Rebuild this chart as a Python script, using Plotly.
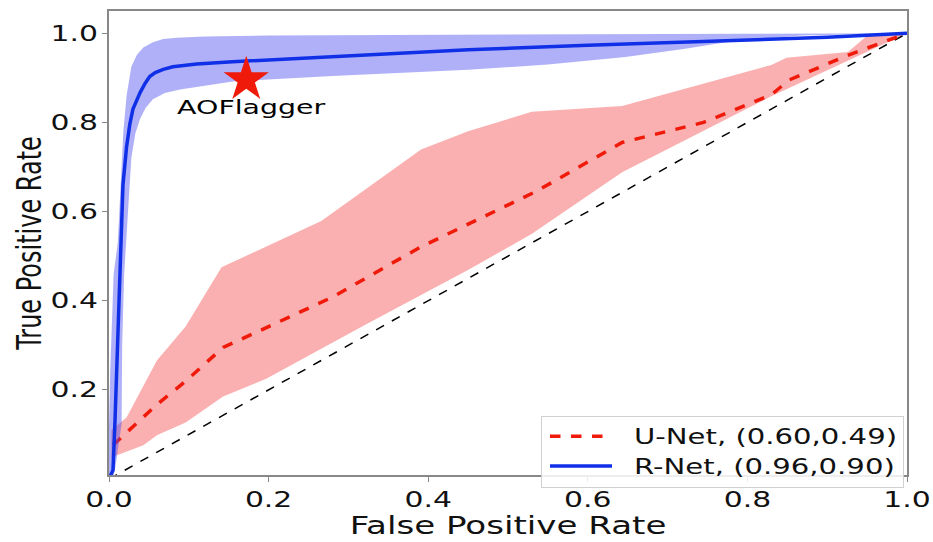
import plotly.graph_objects as go

# Mean ROC curves and their spread bands (FPR, TPR)
rnet_fpr = [0.0, 0.005, 0.0075, 0.0096, 0.012, 0.0138, 0.0175, 0.022, 0.026, 0.030, 0.035,
            0.039, 0.045, 0.051, 0.058, 0.068, 0.080, 0.11, 0.155, 0.28, 0.45, 0.60,
            0.75, 0.90, 1.0]
rnet_tpr = [0.0, 0.02, 0.13, 0.24, 0.36, 0.46, 0.66, 0.745, 0.795, 0.83, 0.852,
            0.867, 0.887, 0.903, 0.912, 0.919, 0.925, 0.931, 0.936, 0.947, 0.963, 0.973,
            0.982, 0.991, 1.0]

rnet_up_fpr = [0.0, 0.0, 0.0015, 0.0058, 0.0110, 0.0150, 0.018, 0.022, 0.028, 0.035,
               0.043, 0.055, 0.068, 0.085, 0.12, 0.2, 0.4, 0.6, 0.8, 1.0]
rnet_up_tpr = [0.0, 0.12, 0.24, 0.46, 0.53, 0.66, 0.78, 0.86, 0.925, 0.952,
               0.968, 0.980, 0.987, 0.990, 0.993, 0.995, 0.997, 0.998, 0.999, 1.0]

rnet_lo_fpr = [0.004, 0.0075, 0.0158, 0.0165, 0.019, 0.022, 0.025, 0.028, 0.033, 0.039,
               0.046, 0.055, 0.07, 0.089, 0.155, 0.28, 0.45, 0.55, 0.647, 0.72, 0.785,
               0.868, 1.0]
rnet_lo_tpr = [0.0, 0.02, 0.124, 0.30, 0.46, 0.55, 0.64, 0.72, 0.775, 0.808,
               0.833, 0.852, 0.866, 0.874, 0.892, 0.904, 0.918, 0.930, 0.947, 0.965, 0.983,
               0.995, 1.0]

unet_fpr = [0.005, 0.06, 0.095, 0.143, 0.2, 0.28, 0.39, 0.535, 0.643, 0.745,
            0.83, 0.852, 0.925, 1.0]
unet_tpr = [0.076, 0.167, 0.218, 0.295, 0.342, 0.408, 0.52, 0.645, 0.755, 0.80,
            0.862, 0.895, 0.95, 1.0]

unet_up_fpr = [0.003, 0.022, 0.06, 0.096, 0.141, 0.266, 0.391, 0.45, 0.53, 0.643,
               0.83, 0.849, 0.926, 0.951, 1.0]
unet_up_tpr = [0.11, 0.138, 0.266, 0.342, 0.475, 0.579, 0.739, 0.78, 0.824, 0.837,
               0.929, 0.945, 0.958, 0.996, 1.0]

unet_lo_fpr = [0.003, 0.005, 0.022, 0.043, 0.06, 0.096, 0.143, 0.197, 0.32, 0.451,
               0.53, 0.643, 0.83, 0.926, 1.0]
unet_lo_tpr = [0.045, 0.05, 0.061, 0.076, 0.098, 0.127, 0.185, 0.225, 0.345, 0.47,
               0.55, 0.688, 0.859, 0.939, 1.0]

# Chance line and reference operating point
chance = [0.0, 1.0]
aoflagger_fpr = [0.172]
aoflagger_tpr = [0.896]

legend_names = ["U-Net, (0.60,0.49)", "R-Net, (0.96,0.90)"]
tick_vals = [0.0, 0.2, 0.4, 0.6, 0.8, 1.0]

FONT = "DejaVu Sans"
TEXT_WIDEN = 1.42  # horizontal glyph stretch applied to all labels


def band(x_up, y_up, x_lo, y_lo, color):
    return go.Scatter(
        x=list(x_up) + list(x_lo)[::-1],
        y=list(y_up) + list(y_lo)[::-1],
        fill="toself", fillcolor=color, line=dict(width=0),
        mode="lines", hoverinfo="skip", showlegend=False,
    )


fig = go.Figure()
fig.add_trace(go.Scatter(x=chance, y=chance, mode="lines",
                         line=dict(color="black", width=1.5, dash="dash"),
                         showlegend=False))
fig.add_trace(band(unet_up_fpr, unet_up_tpr, unet_lo_fpr, unet_lo_tpr,
                   "rgba(245,80,80,0.45)"))
fig.add_trace(go.Scatter(x=unet_fpr, y=unet_tpr, mode="lines", name=legend_names[0],
                         line=dict(color="#f01a0a", width=3.5, dash="dash")))
fig.add_trace(band(rnet_up_fpr, rnet_up_tpr, rnet_lo_fpr, rnet_lo_tpr,
                   "rgba(80,80,240,0.45)"))
fig.add_trace(go.Scatter(x=rnet_fpr, y=rnet_tpr, mode="lines", name=legend_names[1],
                         line=dict(color="#1030e8", width=3.5)))
fig.add_trace(go.Scatter(x=aoflagger_fpr, y=aoflagger_tpr, mode="markers",
                         marker=dict(symbol="star", size=34, color="#f01a0a",
                                     line=dict(width=0)),
                         showlegend=False))
fig.add_annotation(x=aoflagger_fpr[0], y=aoflagger_tpr[0], text="AOFlagger",
                   showarrow=False, yshift=-27, xshift=5,
                   font=dict(family=FONT, size=20, color="black"))

axis_common = dict(
    showgrid=False, zeroline=False, showline=True, linecolor="#888888", linewidth=1.5,
    mirror=True, ticks="outside", ticklen=5, tickcolor="#888888", tickwidth=1.2,
    tickfont=dict(family=FONT, size=21, color="#111111"),
)

fig.update_layout(
    width=933, height=542,
    margin=dict(l=109, r=23, t=9, b=56),
    paper_bgcolor="white", plot_bgcolor="white",
    xaxis=dict(range=[0, 1], tickvals=tick_vals, tickformat=".1f",
               title=dict(text="False Positive Rate", standoff=4,
                          font=dict(family=FONT, size=24, color="#111111")),
               **axis_common),
    yaxis=dict(range=[0.009, 1.05], tickvals=tick_vals[1:], tickformat=".1f",
               title=dict(text="True Positive Rate", standoff=16,
                          font=dict(family=FONT, size=24, color="#111111")),
               **axis_common),
    legend=dict(x=0.996, y=-0.027, xanchor="right", yanchor="bottom",
                bgcolor="rgba(255,255,255,0.85)", bordercolor="#d0d0d0", borderwidth=1,
                font=dict(family=FONT, size=20.5, color="#111111"),
                itemwidth=82),
    showlegend=True,
)

# Widen the label glyphs horizontally (SVG textLength), keeping anchors in place,
# and draw shorter line samples in the legend.
widen_js = """
(function(){
  var gd = document.getElementById('{plot_id}');
  var K = %s;
  function widen(t){
    if (t.getAttribute('data-wide')) return 0;
    var w = t.getComputedTextLength();
    if (!w) return 0;
    t.setAttribute('textLength', (w*K).toFixed(2));
    t.setAttribute('lengthAdjust', 'spacingAndGlyphs');
    t.setAttribute('data-wide', '1');
    return w*(K-1);
  }
  function apply(){
    gd.querySelectorAll('.xtick text, .ytick text, .g-xtitle text, .annotation-text').forEach(widen);
    var yt = gd.querySelector('.g-ytitle text');
    if (yt && !yt.getAttribute('data-wide')) {
      var x = parseFloat(yt.getAttribute('x')), y = parseFloat(yt.getAttribute('y'));
      var tr = yt.getAttribute('transform') || '';
      yt.setAttribute('transform', 'translate(' + x + ',' + y + ') scale(' + K + ',1) translate(' + (-x) + ',' + (-y) + ') ' + tr);
      yt.setAttribute('data-wide', '1');
    }
    gd.querySelectorAll('.legend .legendlines path').forEach(function(p){
      p.setAttribute('d', 'M8,0h62');
    });
    var extra = 0;
    gd.querySelectorAll('.legendtext').forEach(function(t){ extra = Math.max(extra, widen(t)); });
    if (extra > 0) {
      var bg = gd.querySelector('.legend rect.bg');
      if (bg) bg.setAttribute('width', parseFloat(bg.getAttribute('width')) + extra);
      gd.querySelectorAll('clipPath[id^="legend"] rect').forEach(function(r){
        r.setAttribute('width', parseFloat(r.getAttribute('width')) + extra);
      });
      var lg = gd.querySelector('g.legend');
      var m = /translate\\(([-\\d.]+),\\s*([-\\d.]+)\\)/.exec(lg.getAttribute('transform') || '');
      if (m) lg.setAttribute('transform', 'translate(' + (parseFloat(m[1]) - extra) + ',' + m[2] + ')');
    }
  }
  apply();
  if (gd.on) gd.on('plotly_afterplot', apply);
})();
""" % TEXT_WIDEN

fig.write_html("out.html", post_script=widen_js)
